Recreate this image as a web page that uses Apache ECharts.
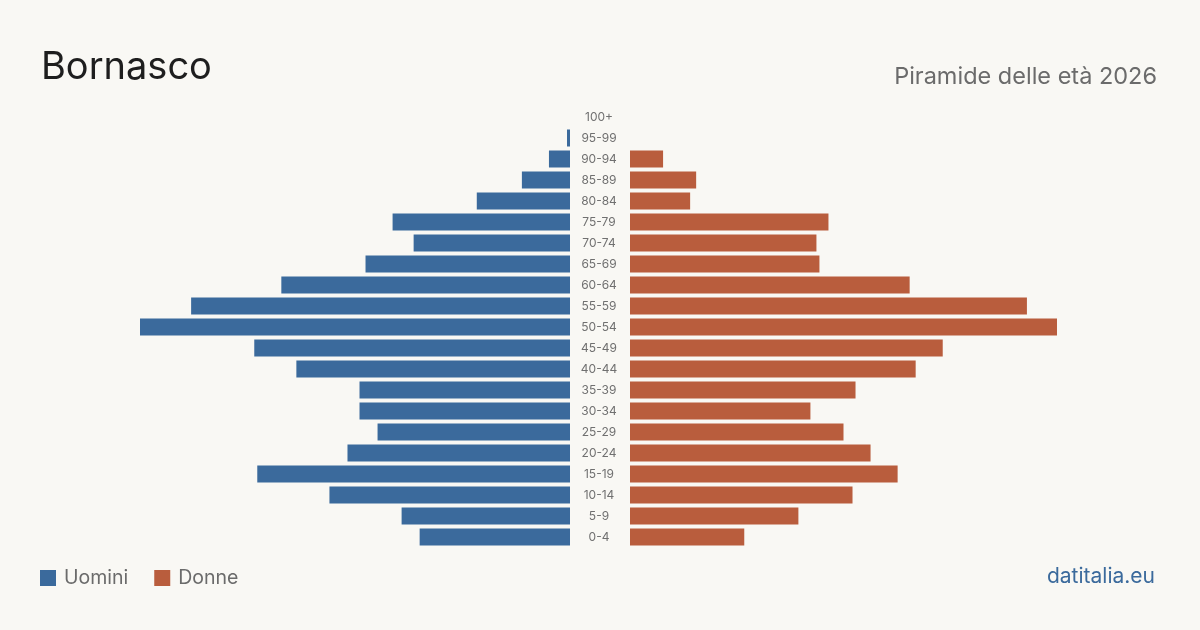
<!DOCTYPE html>
<html lang="it">
<head>
<meta charset="UTF-8">
<title>Bornasco - Piramide delle età 2026</title>
<script src="https://cdn.jsdelivr.net/npm/echarts@6/dist/echarts.min.js"></script>
<style>
  html, body { margin: 0; padding: 0; background: #f9f8f4; }
  #chart { width: 1200px; height: 630px; }
</style>
</head>
<body>
<div id="chart"></div>
<script>
// age classes, top to bottom as drawn
const ageGroups = ['100+', '95-99', '90-94', '85-89', '80-84', '75-79', '70-74', '65-69',
  '60-64', '55-59', '50-54', '45-49', '40-44', '35-39', '30-34', '25-29',
  '20-24', '15-19', '10-14', '5-9', '0-4'];
const uomini = [0, 1, 7, 16, 31, 59, 52, 68, 96, 126, 143, 105, 91, 70, 70, 64, 74, 104, 80, 56, 50];
const donne = [0, 0, 11, 22, 20, 66, 62, 63, 93, 132, 142, 104, 95, 75, 60, 71, 80, 89, 74, 56, 38];
const scaleMax = 143;

const blue = '#3b6a9c';
const red = '#b95d3d';
const font = 'Inter, "Noto Sans", sans-serif';

let chart = echarts.init(document.getElementById('chart'));

let option = {
  backgroundColor: '#f9f8f4',
  animation: false,
  textStyle: { fontFamily: font },
  title: [
    {
      text: 'Bornasco', left: 36, top: 44,
      textStyle: { fontFamily: font, fontSize: 38, fontWeight: 'normal', color: '#1e1e1e' }
    },
    {
      text: 'Piramide delle età 2026', right: 38, top: 60,
      textStyle: { fontFamily: font, fontSize: 23.5, fontWeight: 'normal', color: '#6b6b6b' }
    },
    {
      text: 'datitalia.eu', right: 40, top: 561,
      textStyle: { fontFamily: font, fontSize: 21, fontWeight: 'normal', color: '#3b6a9c' }
    }
  ],
  legend: {
    left: 40, top: 568, padding: 0,
    icon: 'rect', itemWidth: 16, itemHeight: 16, itemGap: 26,
    textStyle: { fontFamily: font, fontSize: 19.5, color: '#6b6b6b', padding: [0, 0, 0, 3] },
    data: ['Uomini', 'Donne']
  },
  grid: [
    { left: 140, width: 430, top: 106.5, height: 441 },
    { left: 630, width: 430, top: 106.5, height: 441 }
  ],
  xAxis: [
    { gridIndex: 0, type: 'value', min: 0, max: scaleMax, inverse: true, show: false },
    { gridIndex: 1, type: 'value', min: 0, max: scaleMax, show: false }
  ],
  yAxis: [
    {
      gridIndex: 0, type: 'category', data: ageGroups, inverse: true,
      axisLine: { show: false }, axisTick: { show: false }, axisLabel: { show: false }
    },
    {
      gridIndex: 1, type: 'category', data: ageGroups, inverse: true, position: 'left',
      axisLine: { show: false }, axisTick: { show: false },
      axisLabel: { margin: 31, align: 'center', fontFamily: font, fontSize: 12, color: '#707070' }
    }
  ],
  series: [
    {
      name: 'Uomini', type: 'bar', xAxisIndex: 0, yAxisIndex: 0,
      data: uomini, barWidth: 17, itemStyle: { color: blue }
    },
    {
      name: 'Donne', type: 'bar', xAxisIndex: 1, yAxisIndex: 1,
      data: donne, barWidth: 17, itemStyle: { color: red }
    }
  ]
};

chart.setOption(option);
</script>
</body>
</html>
